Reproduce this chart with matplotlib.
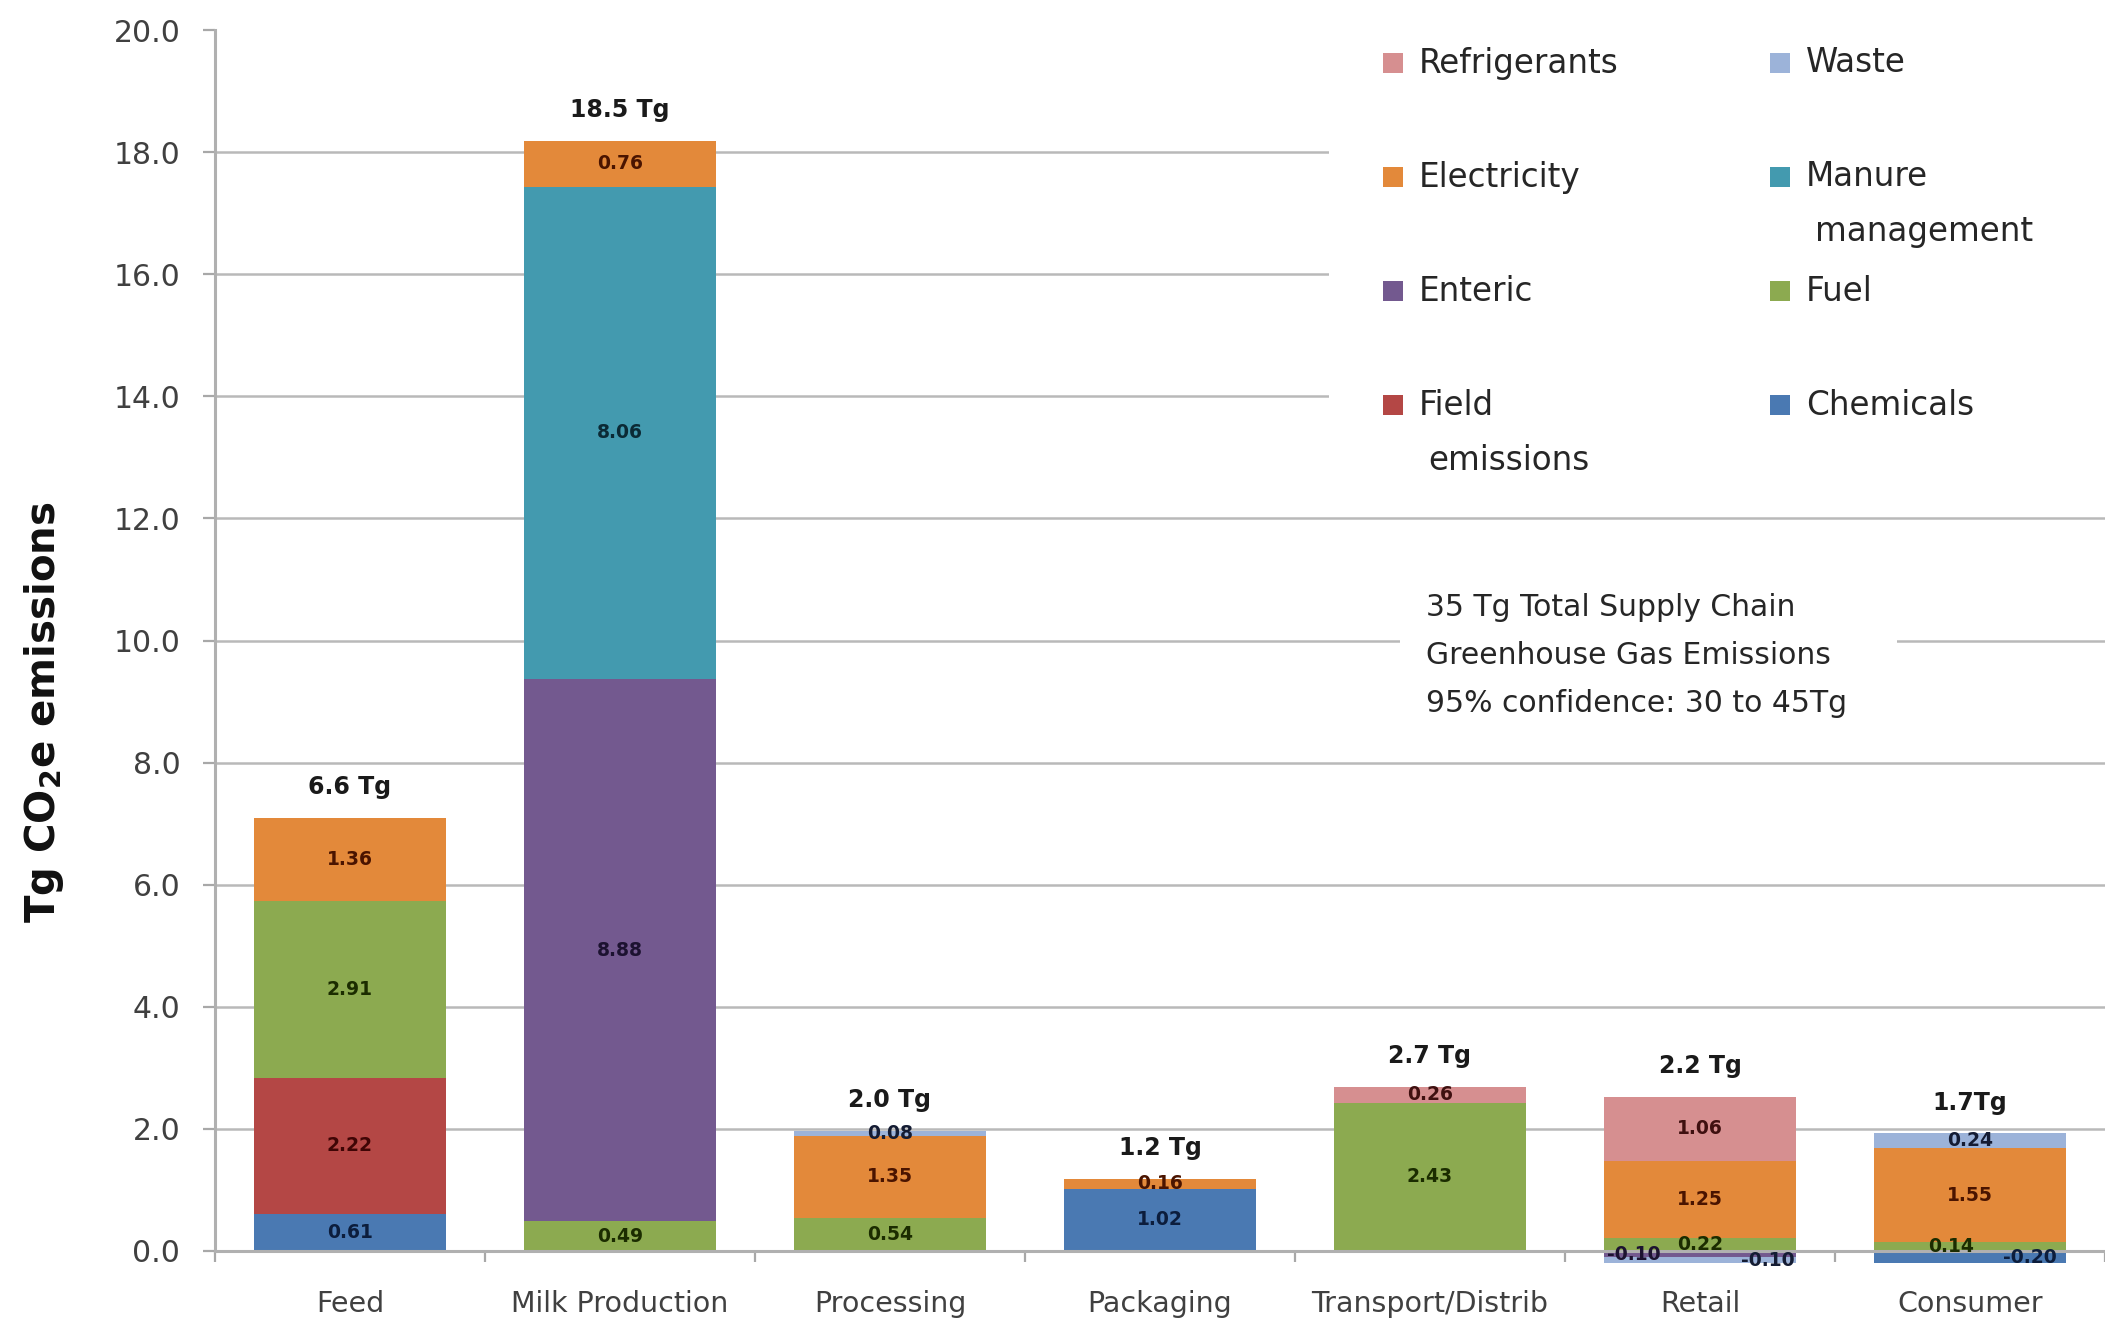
import matplotlib
matplotlib.use("Agg")
import matplotlib.pyplot as plt
from matplotlib.patches import Rectangle
from matplotlib.ticker import FixedLocator, FormatStrFormatter
import numpy as np

# ---- data (Tg CO2e) ----
categories = ["Feed", "Milk Production", "Processing", "Packaging",
              "Transport/Distrib", "Retail", "Consumer"]
chemicals = [0.61, 0.00, 0.00, 1.02, 0.00, 0.00, -0.20]
field_emissions = [2.22, 0.00, 0.00, 0.00, 0.00, 0.00, 0.00]
fuel = [2.91, 0.49, 0.54, 0.00, 2.43, 0.22, 0.14]
enteric = [0.00, 8.88, 0.00, 0.00, 0.00, -0.10, 0.00]
manure_management = [0.00, 8.06, 0.00, 0.00, 0.00, 0.00, 0.00]
electricity = [1.36, 0.76, 1.35, 0.16, 0.00, 1.25, 1.55]
waste = [0.00, 0.00, 0.08, 0.00, 0.00, -0.10, 0.24]
refrigerants = [0.00, 0.00, 0.00, 0.00, 0.26, 1.06, 0.00]
total_labels = ["6.6 Tg", "18.5 Tg", "2.0 Tg", "1.2 Tg", "2.7 Tg", "2.2 Tg", "1.7Tg"]
note_lines = ["35 Tg Total Supply Chain",
              "Greenhouse Gas Emissions",
              "95% confidence: 30 to 45Tg"]

# stacking order, bottom to top
series = [
    ("Chemicals", chemicals, "#4a79b2", "#0c1d3c"),
    ("Field emissions", field_emissions, "#b44745", "#3f0505"),
    ("Fuel", fuel, "#8caa50", "#1b2c00"),
    ("Enteric", enteric, "#73598f", "#1c1230"),
    ("Manure management", manure_management, "#439aaf", "#0b2a35"),
    ("Electricity", electricity, "#e3893a", "#4a1400"),
    ("Waste", waste, "#9cb3d9", "#141c33"),
    ("Refrigerants", refrigerants, "#d68f90", "#3f1010"),
]

# horizontal nudges (category units) for a few crowded value labels
label_nudge = {(5, "Enteric"): -0.245, (5, "Waste"): 0.25,
               (6, "Chemicals"): 0.22, (6, "Fuel"): -0.07}

W, H = 2105, 1323
fig = plt.figure(figsize=(W / 100, H / 100), dpi=100)
ax_l, ax_r, ax_b, ax_t = 215, 2105, 1251, 30
ax = fig.add_axes([ax_l / W, 1 - ax_b / H, (ax_r - ax_l) / W, (ax_b - ax_t) / H])

x = np.arange(len(categories))
bar_w = 0.71
pos_bottom = np.zeros(len(categories))
neg_bottom = np.zeros(len(categories))

for name, vals, color, tcolor in series:
    vals = np.asarray(vals, dtype=float)
    bottoms = np.where(vals >= 0, pos_bottom, neg_bottom)
    mask = vals != 0
    ax.bar(x[mask], vals[mask], bar_w, bottom=bottoms[mask], color=color,
           edgecolor="none", zorder=3, clip_on=False)
    for i in np.where(mask)[0]:
        cx = x[i] + label_nudge.get((i, name), 0.0)
        cy = bottoms[i] + vals[i] / 2
        ax.text(cx, cy, f"{vals[i]:.2f}", ha="center", va="center",
                fontsize=13.5, fontweight="bold", color=tcolor, zorder=5,
                clip_on=False)
    pos_bottom += np.where(vals > 0, vals, 0)
    neg_bottom += np.where(vals < 0, vals, 0)

# stage totals above each bar
for i, lab in enumerate(total_labels):
    ax.annotate(lab, (x[i], pos_bottom[i]), xytext=(0, 22),
                textcoords="offset points", ha="center", va="center",
                fontsize=17, fontweight="bold", color="#1a1a1a", zorder=6)

# axes styling
ax.set_xlim(-0.5, len(categories) - 0.5)
ax.set_ylim(0, 20)
ax.yaxis.set_major_locator(FixedLocator(np.arange(0, 20.1, 2.0)))
ax.yaxis.set_major_formatter(FormatStrFormatter("%.1f"))
ax.set_xticks(x)
ax.set_xticklabels(categories, fontsize=20.5, color="#404040")
ax.set_xticks(np.arange(-0.5, len(categories), 1.0), minor=True)
ax.tick_params(axis="x", which="major", length=0, pad=28)
ax.tick_params(axis="x", which="minor", length=8, width=1.6, color="#a8a8a8",
               direction="out")
ax.tick_params(axis="y", length=9, width=1.6, color="#a8a8a8", pad=16,
               labelsize=21.5, labelcolor="#404040")

for s in ("top", "right"):
    ax.spines[s].set_visible(False)
for s in ("left", "bottom"):
    ax.spines[s].set_color("#b0b0b0")
    ax.spines[s].set_linewidth(2.2)
    ax.spines[s].set_zorder(4)

ax.set_axisbelow(True)
ax.yaxis.grid(True, color="#b9b9b9", linewidth=1.8)
ax.get_ygridlines()[-1].set_visible(False)

ax.set_ylabel("Tg CO$_\\mathbf{2}$e emissions", fontsize=29, fontweight="bold",
              color="#111111")
ax.yaxis.set_label_coords((66 - ax_l) / (ax_r - ax_l), (ax_b - 712) / (ax_b - ax_t))


def ax_pt(px, py):
    """Figure pixel position -> axes fraction."""
    return (px - ax_l) / (ax_r - ax_l), (ax_b - py) / (ax_b - ax_t)


# white panels behind the legend and the note
lx0, ly0 = ax_pt(1329, 497)
lx1, ly1 = ax_pt(2105, 30)
ax.add_patch(Rectangle((lx0, ly0), lx1 - lx0, ly1 - ly0, transform=ax.transAxes,
                       facecolor="white", edgecolor="none", zorder=1))
nx0, ny0 = ax_pt(1400, 590)
nx1, ny1 = ax_pt(1897, 720)
ax.add_patch(Rectangle((nx0, ny0), nx1 - nx0, ny1 - ny0, transform=ax.transAxes,
                       facecolor="white", edgecolor="none", zorder=1))

# legend, two columns read row by row from the top of the stack
legend_order = ["Refrigerants", "Waste", "Electricity", "Manure management",
                "Enteric", "Fuel", "Field emissions", "Chemicals"]
colors = {name: c for name, _, c, _ in series}
col_sq = [1393, 1780]
col_tx = [1419, 1806]
row_y = [63, 177, 291, 405]
sq = 20
for k, name in enumerate(legend_order):
    r, c = divmod(k, 2)
    sx, sy = ax_pt(col_sq[c] - sq / 2, row_y[r] + sq / 2)
    sw = sq / (ax_r - ax_l)
    sh = sq / (ax_b - ax_t)
    ax.add_patch(Rectangle((sx, sy), sw, sh, transform=ax.transAxes,
                           facecolor=colors[name], edgecolor="none", zorder=6,
                           clip_on=False))
    words = name.split(" ") if len(name) > 12 else [name]
    for j, line in enumerate(words):
        tx, ty = ax_pt(col_tx[c] + (9 if j else 0), row_y[r] + 55 * j)
        ax.text(tx, ty, line, transform=ax.transAxes, ha="left", va="center",
                fontsize=23.5, color="#262626", zorder=6)

# supply-chain total note
for j, line in enumerate(note_lines):
    tx, ty = ax_pt(1426, 607 + 48 * j)
    ax.text(tx, ty, line, transform=ax.transAxes, ha="left", va="center",
            fontsize=21.5, color="#262626", zorder=6)

fig.savefig("out.png", dpi=100, facecolor="white")
